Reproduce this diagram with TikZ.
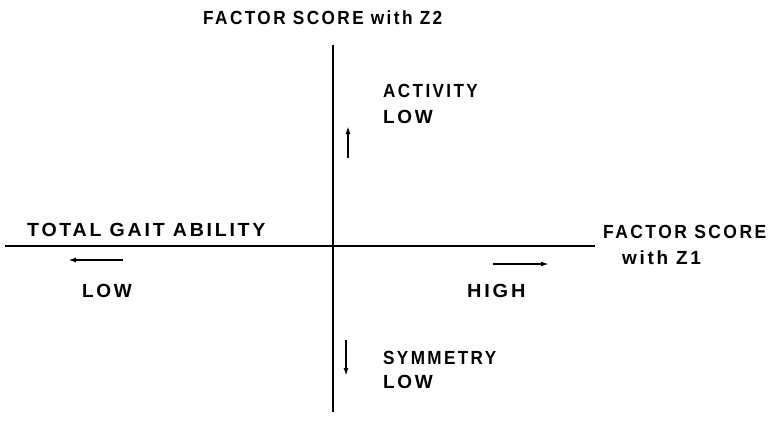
\documentclass[tikz,border=0pt]{standalone}
\usepackage{fontspec}
\usetikzlibrary{arrows.meta}
\setmainfont{Liberation Sans}[LetterSpace=14]
\newcommand{\hsq}[2]{\scalebox{#1}[1]{#2}}
\begin{document}
\begin{tikzpicture}[x=1pt,y=-1pt,
  lbl/.style={font=\bfseries\fontsize{19}{22}\selectfont, inner sep=0pt, anchor=base west},
  axis/.style={line width=2pt},
  dirarrow/.style={line width=1.8pt,-{Latex[length=8pt,width=5pt]}}]
\useasboundingbox (0,0) rectangle (770,424);
\coordinate (vtop) at (333,45);
\coordinate (vbot) at (333,412);
\coordinate (hleft) at (5,246);
\coordinate (hright) at (595,246);
\draw[axis] (vtop) -- (vbot);
\draw[axis] (hleft) -- (hright);
\coordinate (la1) at (123,260); \coordinate (la2) at (68,260);
\coordinate (ra1) at (493,264); \coordinate (ra2) at (549,264);
\coordinate (ua1) at (348,158); \coordinate (ua2) at (348,126);
\coordinate (da1) at (346,340); \coordinate (da2) at (346,376);
\draw[dirarrow] (la1) -- (la2);
\draw[dirarrow] (ra1) -- (ra2);
\draw[dirarrow] (ua1) -- (ua2);
\draw[dirarrow] (da1) -- (da2);
\node[lbl] (z2) at (203,24) {\hsq{0.906}{FACTOR SCORE with Z2}};
\node[lbl] (act) at (383,97) {\hsq{0.9}{ACTIVITY}};
\node[lbl] (actlow) at (383,123) {LOW};
\node[lbl] (tga) at (27,236) {\hsq{1.03}{TOTAL GAIT ABILITY}};
\node[lbl] (low) at (82,297) {LOW};
\node[lbl] (high) at (467,297) {\hsq{1.05}{HIGH}};
\node[lbl] (z1a) at (603,238) {\hsq{0.92}{FACTOR SCORE}};
\node[lbl] (z1b) at (622,264) {with Z1};
\node[lbl] (sym) at (383,364) {\hsq{0.9}{SYMMETRY}};
\node[lbl] (symlow) at (383,388) {LOW};
\end{tikzpicture}
\end{document}
